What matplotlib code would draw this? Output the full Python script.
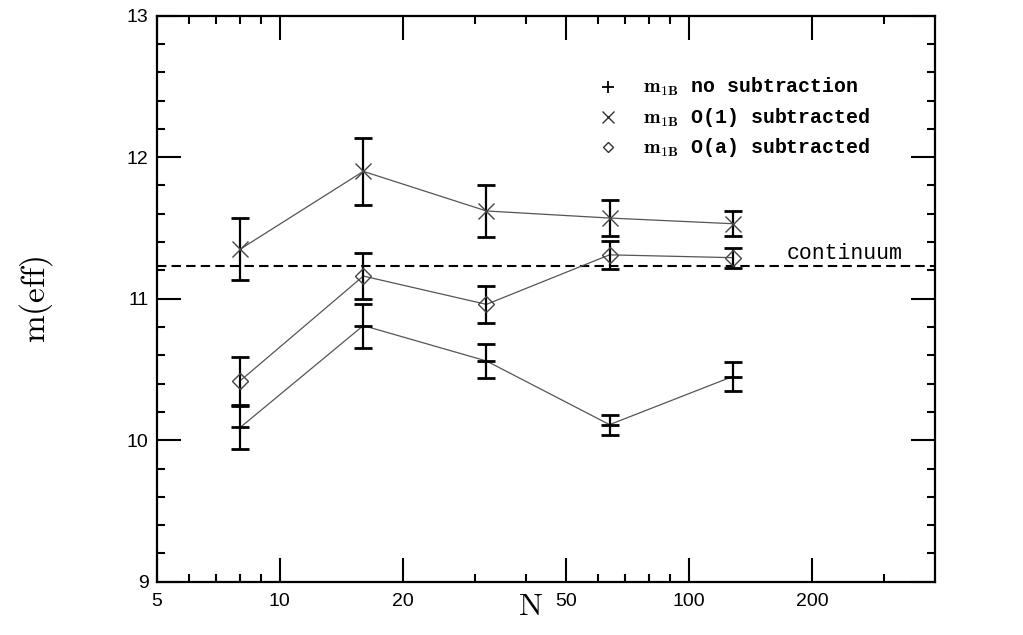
import matplotlib
matplotlib.use("Agg")
import matplotlib.pyplot as plt
from matplotlib.ticker import FixedLocator, NullFormatter, FixedFormatter

plt.rcParams['mathtext.fontset'] = 'cm'

# ---- data ----
N = [8, 16, 32, 64, 128]
m_nosub = [10.09, 10.81, 10.56, 10.11, 10.45]
err_nosub = [0.155, 0.155, 0.12, 0.07, 0.105]
m_o1 = [11.35, 11.90, 11.62, 11.57, 11.53]
err_o1 = [0.22, 0.235, 0.185, 0.13, 0.09]
m_oa = [10.42, 11.16, 10.96, 11.31, 11.29]
err_oa = [0.17, 0.16, 0.13, 0.10, 0.07]
continuum = 11.23

xmajor = [5, 10, 20, 50, 100, 200]
xmajor_labels = ['5', '10', '20', '50', '100', '200']
xminor = [6, 7, 8, 9, 30, 40, 60, 70, 80, 90, 300]
yticks = [9, 10, 11, 12, 13]

legend_labels = [r'$\mathbf{m_{1B}}$ no subtraction',
                 r'$\mathbf{m_{1B}}$ O(1) subtracted',
                 r'$\mathbf{m_{1B}}$ O(a) subtracted']

fig = plt.figure(figsize=(10.23, 6.35), dpi=100)
ax = fig.add_axes([0.1532, 0.0839, 0.914 - 0.1532, 0.9753 - 0.0839])

line_kw = dict(color='#555555', lw=0.9)
eb_kw = dict(ecolor='black', elinewidth=1.6, capsize=6.3, capthick=2.0)

# continuum dashed line
ax.axhline(continuum, color='black', lw=1.5, ls=(0, (4.5, 2.5)), zorder=1)

# no subtraction (+)
ax.errorbar(N, m_nosub, yerr=err_nosub, fmt='none', zorder=3, **eb_kw)
ax.plot(N, m_nosub, zorder=2, **line_kw)
ax.plot(N, m_nosub, ls='none', marker='_', ms=12.5, mew=2.0, color='black', zorder=4)

# O(1) subtracted (x)
ax.errorbar(N, m_o1, yerr=err_o1, fmt='none', zorder=3, **eb_kw)
ax.plot(N, m_o1, zorder=2, **line_kw)
ax.plot(N, m_o1, ls='none', marker='x', ms=11, mew=1.0, color='#444444', zorder=4)

# O(a) subtracted (diamond)
ax.errorbar(N, m_oa, yerr=err_oa, fmt='none', zorder=3, **eb_kw)
ax.plot(N, m_oa, zorder=2, **line_kw)
ax.plot(N, m_oa, ls='none', marker='D', ms=8.5, mew=1.0, mec='#444444', mfc='none', zorder=4)

# axes setup
ax.set_xscale('log')
ax.set_xlim(5, 400)
ax.set_ylim(9, 13)
ax.xaxis.set_major_locator(FixedLocator(xmajor))
ax.xaxis.set_major_formatter(FixedFormatter(xmajor_labels))
ax.xaxis.set_minor_locator(FixedLocator(xminor))
ax.xaxis.set_minor_formatter(NullFormatter())
ax.set_yticks(yticks)
ax.set_yticklabels([str(v) for v in yticks])
ax.set_yticks([9 + 0.2 * i for i in range(21)], minor=True)

for s in ax.spines.values():
    s.set_linewidth(1.6)
ax.tick_params(which='both', direction='in', top=True, right=True, width=1.5)
ax.tick_params(which='major', length=17)
ax.tick_params(which='minor', length=6)
ax.tick_params(axis='x', which='major', pad=8, labelsize=14)
ax.tick_params(axis='y', which='major', pad=6, labelsize=14)
for lab in ax.get_xticklabels() + ax.get_yticklabels():
    lab.set_family('Liberation Sans')

ax.set_xlabel(r'$\mathrm{N}$', fontsize=23)
ax.xaxis.set_label_coords(0.48, -0.043)
ax.xaxis.label.set_va('center')
ax.set_ylabel(r'$\mathrm{m(eff)}$', fontsize=24)
ax.yaxis.set_label_coords(-0.155, 0.5)
ax.yaxis.label.set_va('center')

# legend (manual)
markers = [dict(marker='+', ms=9, mew=1.3, color='black'),
           dict(marker='x', ms=8, mew=1.0, color='#333333'),
           dict(marker='D', ms=5.5, mew=1.0, mec='#333333', mfc='none')]
rows_y = [0.8746, 0.821, 0.768]
for mk, lab, yy in zip(markers, legend_labels, rows_y):
    ax.plot([0.580], [yy], transform=ax.transAxes, ls='none', clip_on=False, **mk)
    ax.text(0.625, yy, lab, transform=ax.transAxes, fontsize=14.3, va='center', ha='left',
            family='Liberation Mono', fontweight='bold')

ax.text(0.809, continuum + 0.015, 'continuum', fontsize=15.5, family='Liberation Mono',
        va='bottom', ha='left', transform=ax.get_yaxis_transform())

fig.savefig('out.png', dpi=100)
